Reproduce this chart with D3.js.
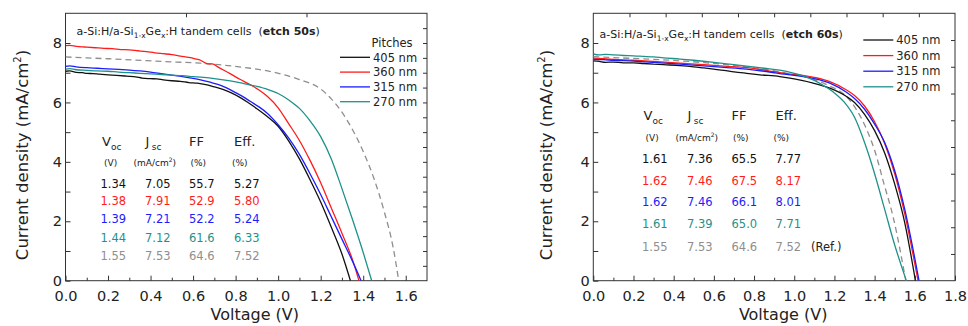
<!DOCTYPE html>
<html>
<head>
<meta charset="utf-8">
<script src="https://cdn.jsdelivr.net/npm/d3@7"></script>
<style>
  html, body { margin: 0; padding: 0; background: #fff; }
  svg { display: block; font-family: "DejaVu Sans", sans-serif; }
  text { white-space: pre; }
</style>
</head>
<body>
<svg id="chart" width="968" height="326"></svg>
<script>
// ---- J–V curves, [voltage (V), current density (mA/cm²)] ----
// etch 50 s
const etch50_405 = [[0,7.05],[0.02,7.06],[0.05,7.01],[0.08,7.0],[0.1,6.98],[0.13,6.97],[0.16,6.95],[0.2,6.93],[0.24,6.91],[0.28,6.89],[0.3,6.88],[0.33,6.86],[0.36,6.82],[0.4,6.8],[0.43,6.79],[0.46,6.76],[0.5,6.73],[0.54,6.71],[0.58,6.67],[0.62,6.65],[0.66,6.6],[0.7,6.52],[0.74,6.44],[0.78,6.32],[0.82,6.17],[0.86,5.99],[0.9,5.79],[0.95,5.52],[1.0,5.2],[1.05,4.7],[1.1,4.1],[1.15,3.4],[1.2,2.65],[1.25,1.8],[1.3,0.9],[1.34,0]];
const etch50_360 = [[0,7.91],[0.02,7.92],[0.05,7.89],[0.08,7.87],[0.1,7.86],[0.14,7.84],[0.18,7.82],[0.22,7.81],[0.26,7.78],[0.3,7.77],[0.34,7.74],[0.38,7.71],[0.42,7.67],[0.46,7.64],[0.5,7.61],[0.54,7.56],[0.58,7.52],[0.61,7.47],[0.635,7.42],[0.655,7.34],[0.67,7.3],[0.69,7.3],[0.72,7.18],[0.776,6.96],[0.82,6.78],[0.87,6.59],[0.91,6.42],[0.95,6.2],[1.0,5.82],[1.05,5.28],[1.1,4.72],[1.15,4.05],[1.2,3.3],[1.25,2.45],[1.3,1.6],[1.35,0.7],[1.38,0]];
const etch50_315 = [[0,7.21],[0.02,7.23],[0.05,7.2],[0.1,7.17],[0.15,7.15],[0.2,7.13],[0.25,7.11],[0.3,7.09],[0.35,7.06],[0.4,7.02],[0.45,6.97],[0.5,6.92],[0.55,6.87],[0.6,6.81],[0.635,6.76],[0.68,6.68],[0.72,6.6],[0.76,6.48],[0.8,6.33],[0.84,6.17],[0.87,6.03],[0.91,5.85],[0.95,5.63],[1.0,5.25],[1.05,4.8],[1.1,4.25],[1.15,3.6],[1.2,2.9],[1.25,2.15],[1.3,1.4],[1.35,0.65],[1.39,0]];
const etch50_270 = [[0,7.12],[0.02,7.14],[0.05,7.1],[0.1,7.08],[0.15,7.06],[0.2,7.05],[0.25,7.02],[0.3,7.0],[0.35,6.98],[0.4,6.96],[0.45,6.94],[0.5,6.92],[0.55,6.9],[0.6,6.87],[0.65,6.84],[0.7,6.8],[0.75,6.75],[0.8,6.69],[0.85,6.62],[0.9,6.54],[0.95,6.44],[1.0,6.3],[1.05,6.08],[1.1,5.8],[1.15,5.38],[1.2,4.85],[1.25,4.1],[1.3,3.1],[1.35,2.05],[1.4,0.95],[1.44,0]];
const etch50_ref = [[0,7.53],[0.1,7.5],[0.2,7.47],[0.32,7.43],[0.45,7.38],[0.634,7.32],[0.75,7.25],[0.87,7.15],[0.95,7.06],[1.027,6.93],[1.1,6.77],[1.2,6.45],[1.25,6.12],[1.3,5.67],[1.35,5.08],[1.4,4.35],[1.45,3.45],[1.5,2.3],[1.54,1.15],[1.567,0]];

// etch 60 s
const etch60_405 = [[0,7.4],[0.03,7.38],[0.06,7.35],[0.1,7.36],[0.15,7.33],[0.2,7.33],[0.25,7.31],[0.3,7.29],[0.35,7.27],[0.432,7.24],[0.5,7.2],[0.55,7.16],[0.6,7.12],[0.65,7.08],[0.7,7.03],[0.763,6.98],[0.83,6.93],[0.928,6.87],[1.0,6.79],[1.094,6.65],[1.177,6.48],[1.26,6.2],[1.3,6.0],[1.35,5.6],[1.4,5.05],[1.45,4.3],[1.5,3.25],[1.55,1.95],[1.603,0]];
const etch60_360 = [[0,7.49],[0.05,7.47],[0.1,7.45],[0.2,7.42],[0.3,7.38],[0.432,7.32],[0.55,7.27],[0.65,7.22],[0.763,7.17],[0.85,7.09],[0.95,6.98],[1.094,6.85],[1.177,6.7],[1.26,6.42],[1.3,6.23],[1.35,5.88],[1.4,5.35],[1.45,4.62],[1.5,3.6],[1.55,2.25],[1.616,0]];
const etch60_315 = [[0,7.45],[0.05,7.44],[0.1,7.42],[0.2,7.39],[0.3,7.35],[0.432,7.29],[0.55,7.23],[0.65,7.18],[0.763,7.12],[0.85,7.05],[0.95,6.95],[1.094,6.81],[1.177,6.65],[1.26,6.34],[1.3,6.13],[1.35,5.77],[1.4,5.27],[1.45,4.65],[1.5,3.7],[1.55,2.4],[1.621,0]];
const etch60_270 = [[0,7.63],[0.03,7.6],[0.06,7.62],[0.1,7.6],[0.15,7.58],[0.2,7.57],[0.25,7.55],[0.3,7.53],[0.35,7.5],[0.432,7.46],[0.5,7.42],[0.6,7.35],[0.7,7.27],[0.763,7.22],[0.85,7.15],[0.928,7.09],[1.0,6.98],[1.05,6.88],[1.1,6.74],[1.15,6.55],[1.2,6.32],[1.25,6.0],[1.3,5.5],[1.35,4.65],[1.4,3.6],[1.45,2.4],[1.5,1.2],[1.558,0]];
const etch60_ref = [[0,7.54],[0.1,7.51],[0.2,7.48],[0.3,7.45],[0.432,7.4],[0.55,7.34],[0.65,7.28],[0.763,7.2],[0.85,7.12],[0.95,7.0],[1.094,6.78],[1.177,6.55],[1.26,6.2],[1.31,5.75],[1.36,5.1],[1.4,4.39],[1.447,3.25],[1.492,2.15],[1.555,0]];

// ---- cell parameters (405, 360, 315, 270 nm, reference) ----
const voc50 = [1.34, 1.38, 1.39, 1.44, 1.55];
const jsc50 = [7.05, 7.91, 7.21, 7.12, 7.53];
const ff50  = [55.7, 52.9, 52.2, 61.6, 64.6];
const eff50 = [5.27, 5.80, 5.24, 6.33, 7.52];
const voc60 = [1.61, 1.62, 1.62, 1.61, 1.55];
const jsc60 = [7.36, 7.46, 7.46, 7.39, 7.53];
const ff60  = [65.5, 67.5, 66.1, 65.0, 64.6];
const eff60 = [7.77, 8.17, 8.01, 7.71, 7.52];

// ---- labels and ticks ----
const pitchLabels = ["405 nm", "360 nm", "315 nm", "270 nm"];
const xTicks50 = [0, 0.2, 0.4, 0.6, 0.8, 1.0, 1.2, 1.4, 1.6];
const xTicks60 = [0, 0.2, 0.4, 0.6, 0.8, 1.0, 1.2, 1.4, 1.6, 1.8];
const yTicks = [0, 2, 4, 6, 8];

const lineColors = ["#111111", "#ff1c1c", "#1c1cff", "#1f918b"];
const refColor = "#8e8e8e";
const textColor = "#222222";

const svg = d3.select("#chart");
svg.append("rect").attr("width", 968).attr("height", 326).attr("fill", "#fff");

function styleAxis(g, size) {
  g.attr("font-family", "DejaVu Sans").attr("font-size", size).attr("color", "#333");
  g.select(".domain").remove();
  g.selectAll("text").attr("fill", textColor);
}

function drawPanel(p) {
  const x = d3.scaleLinear().domain([0, p.xMax]).range([p.L, p.R]);
  const y = d3.scaleLinear().domain([0, 9]).range([p.B, p.T]);
  const g = svg.append("g");

  // bottom axis: minor then labelled majors (ticks point inward)
  g.append("g").attr("transform", `translate(0,${p.B})`)
    .call(d3.axisBottom(x).tickValues(d3.range(1, Math.round(p.xMax * 10), 2).map(d => d / 10)).tickSize(-3).tickFormat(""))
    .call(a => styleAxis(a, 14.5));
  g.append("g").attr("transform", `translate(0,${p.B})`)
    .call(d3.axisBottom(x).tickValues(p.xTicks).tickSize(-5).tickFormat(d3.format(".1f")))
    .call(a => styleAxis(a, 14.5))
    .call(a => a.selectAll("text").attr("y", 20).attr("dy", 0));

  // left axis
  g.append("g").attr("transform", `translate(${p.L},0)`)
    .call(d3.axisLeft(y).tickValues(d3.range(1, 9, 2)).tickSize(-5).tickFormat(""))
    .call(a => styleAxis(a, 14.5));
  g.append("g").attr("transform", `translate(${p.L},0)`)
    .call(d3.axisLeft(y).tickValues(yTicks).tickSize(-5).tickPadding(3.5).tickFormat(d3.format("d")))
    .call(a => styleAxis(a, 14.5));

  // top and right mirror ticks
  g.append("g").attr("transform", `translate(0,${p.T})`)
    .call(d3.axisTop(x).tickValues(d3.range(1, p.topDiv).map(i => i * p.xMax / p.topDiv)).tickSize(-4).tickFormat(""))
    .call(a => styleAxis(a, 10));
  g.append("g").attr("transform", `translate(${p.R},0)`)
    .call(d3.axisRight(y).tickValues(d3.range(1, p.rightDiv).map(i => i * 9 / p.rightDiv)).tickSize(-4).tickFormat(""))
    .call(a => styleAxis(a, 10));

  // frame
  g.append("rect").attr("x", p.L).attr("y", p.T).attr("width", p.R - p.L).attr("height", p.B - p.T)
    .attr("fill", "none").attr("stroke", "#333").attr("stroke-width", 1);

  // curves
  const line = d3.line().x(d => x(d[0])).y(d => y(d[1])).curve(d3.curveMonotoneX);
  const clip = "clip" + p.id;
  g.append("clipPath").attr("id", clip).append("rect")
    .attr("x", p.L).attr("y", p.T).attr("width", p.R - p.L).attr("height", p.B - p.T);
  const cg = g.append("g").attr("clip-path", `url(#${clip})`);
  cg.append("path").datum(p.ref).attr("d", line).attr("fill", "none")
    .attr("stroke", refColor).attr("stroke-width", 1.3).attr("stroke-dasharray", "6,4");
  p.curves.forEach((c, i) => {
    cg.append("path").datum(c).attr("d", line).attr("fill", "none")
      .attr("stroke", lineColors[i]).attr("stroke-width", 1.3);
  });

  // title
  const t = g.append("text").attr("x", p.titleX).attr("y", p.titleY)
    .attr("font-size", 11).attr("fill", textColor);
  t.append("tspan").text("a-Si:H/a-Si");
  t.append("tspan").attr("font-size", 7.5).attr("dy", 3).text("1-x");
  t.append("tspan").attr("dy", -3).text("Ge");
  t.append("tspan").attr("font-size", 7.5).attr("dy", 3).text("x");
  t.append("tspan").attr("dy", -3).text(":H tandem cells  (");
  t.append("tspan").attr("font-weight", "bold").text(p.etch);
  t.append("tspan").text(")");

  // legend
  if (p.legendTitle) {
    g.append("text").attr("x", p.legX2 + 1.5).attr("y", p.legY0 - p.legStep + 4)
      .attr("font-size", 11.5).attr("fill", textColor).text(p.legendTitle);
  }
  pitchLabels.forEach((lab, i) => {
    const yy = p.legY0 + i * p.legStep;
    g.append("line").attr("x1", p.legX1).attr("x2", p.legX2).attr("y1", yy).attr("y2", yy)
      .attr("stroke", lineColors[i]).attr("stroke-width", 1.3);
    g.append("text").attr("x", p.legX2 + 3).attr("y", yy + 4.2)
      .attr("font-size", 11.5).attr("fill", textColor).text(lab);
  });

  // axis titles
  g.append("text").attr("x", (p.L + p.R) / 2 - p.xTitleShift).attr("y", 319.5).attr("text-anchor", "middle")
    .attr("font-size", 16).attr("fill", textColor).text("Voltage (V)");
  const yt = g.append("text").attr("transform", `translate(${p.yTitleX},155) rotate(-90)`)
    .attr("text-anchor", "middle").attr("font-size", 16.5).attr("fill", textColor);
  yt.append("tspan").text("Current density (mA/cm");
  yt.append("tspan").attr("font-size", 10).attr("dy", -7).text("2");
  yt.append("tspan").attr("dy", 7).text(")");

  // parameter table
  const cols = p.tableCols;
  const hdr = g.append("g").attr("fill", textColor);
  const hv = hdr.append("text").attr("x", cols[0] + 1.5).attr("y", p.hdrY).attr("font-size", 13);
  hv.append("tspan").text("V");
  hv.append("tspan").attr("font-size", 9).attr("dy", 3.5).text("oc");
  const hj = hdr.append("text").attr("x", cols[1] + 0.5).attr("y", p.hdrY).attr("font-size", 13);
  hj.append("tspan").text("J");
  hj.append("tspan").attr("font-size", 9).attr("dy", 3.5).attr("dx", 2.5).text("sc");
  hdr.append("text").attr("x", cols[2]).attr("y", p.hdrY).attr("font-size", 13).text("FF");
  hdr.append("text").attr("x", cols[3]).attr("y", p.hdrY).attr("font-size", 13).text("Eff.");
  hdr.append("text").attr("x", cols[0] + 3.5).attr("y", p.unitY).attr("font-size", 9).text("(V)");
  const hu = hdr.append("text").attr("x", p.unitJx).attr("y", p.unitY).attr("font-size", 9);
  hu.append("tspan").text("(mA/cm");
  hu.append("tspan").attr("font-size", 6).attr("dy", -4).text("2");
  hu.append("tspan").attr("dy", 4).text(")");
  hdr.append("text").attr("x", cols[2] + 1.5).attr("y", p.unitY).attr("font-size", 9).text("(%)");
  hdr.append("text").attr("x", cols[3] - 2).attr("y", p.unitY).attr("font-size", 9).text("(%)");

  const rowColors = lineColors.concat([refColor]);
  const f2 = d3.format(".2f"), f1 = d3.format(".1f");
  p.voc.forEach((v, i) => {
    const yy = p.rowY[i];
    const vals = [f2(v), f2(p.jsc[i]), f1(p.ff[i]), f2(p.eff[i])];
    vals.forEach((s, k) => {
      g.append("text").attr("x", cols[k]).attr("y", yy).attr("font-size", 11.5)
        .attr("fill", rowColors[i]).text(s);
    });
  });
  if (p.refNote) {
    g.append("text").attr("x", p.refNoteX).attr("y", p.rowY[4]).attr("font-size", 11.5)
      .attr("fill", textColor).text(p.refNote);
  }
}

drawPanel({
  id: "a", L: 65.5, R: 427, T: 13.3, B: 280.7, xMax: 1.7, xTicks: xTicks50,
  topDiv: 3, rightDiv: 18,
  curves: [etch50_405, etch50_360, etch50_315, etch50_270], ref: etch50_ref,
  etch: "etch 50s", titleX: 76.5, titleY: 35,
  legendTitle: "Pitches", legX1: 340, legX2: 370, legY0: 57.3, legStep: 14.8,
  xTitleShift: -8.5, yTitleX: 28,
  tableCols: [100.5, 145, 189, 234], hdrY: 146, unitY: 166, unitJx: 133.5,
  rowY: [187.5, 205, 223, 241.5, 259.5],
  voc: voc50, jsc: jsc50, ff: ff50, eff: eff50
});

drawPanel({
  id: "b", L: 593.3, R: 955, T: 13.3, B: 280.7, xMax: 1.8, xTicks: xTicks60,
  topDiv: 10, rightDiv: 10,
  curves: [etch60_405, etch60_360, etch60_315, etch60_270], ref: etch60_ref,
  etch: "etch 60s", titleX: 599.5, titleY: 38.3,
  legendTitle: null, legX1: 863.3, legX2: 893.3, legY0: 40, legStep: 15.6,
  xTitleShift: -9, yTitleX: 552,
  tableCols: [642, 687, 731.5, 775.5], hdrY: 120, unitY: 140.5, unitJx: 675.5,
  rowY: [163, 185, 205.5, 228, 250.5],
  voc: voc60, jsc: jsc60, ff: ff60, eff: eff60,
  refNote: "(Ref.)", refNoteX: 811
});
</script>
</body>
</html>
